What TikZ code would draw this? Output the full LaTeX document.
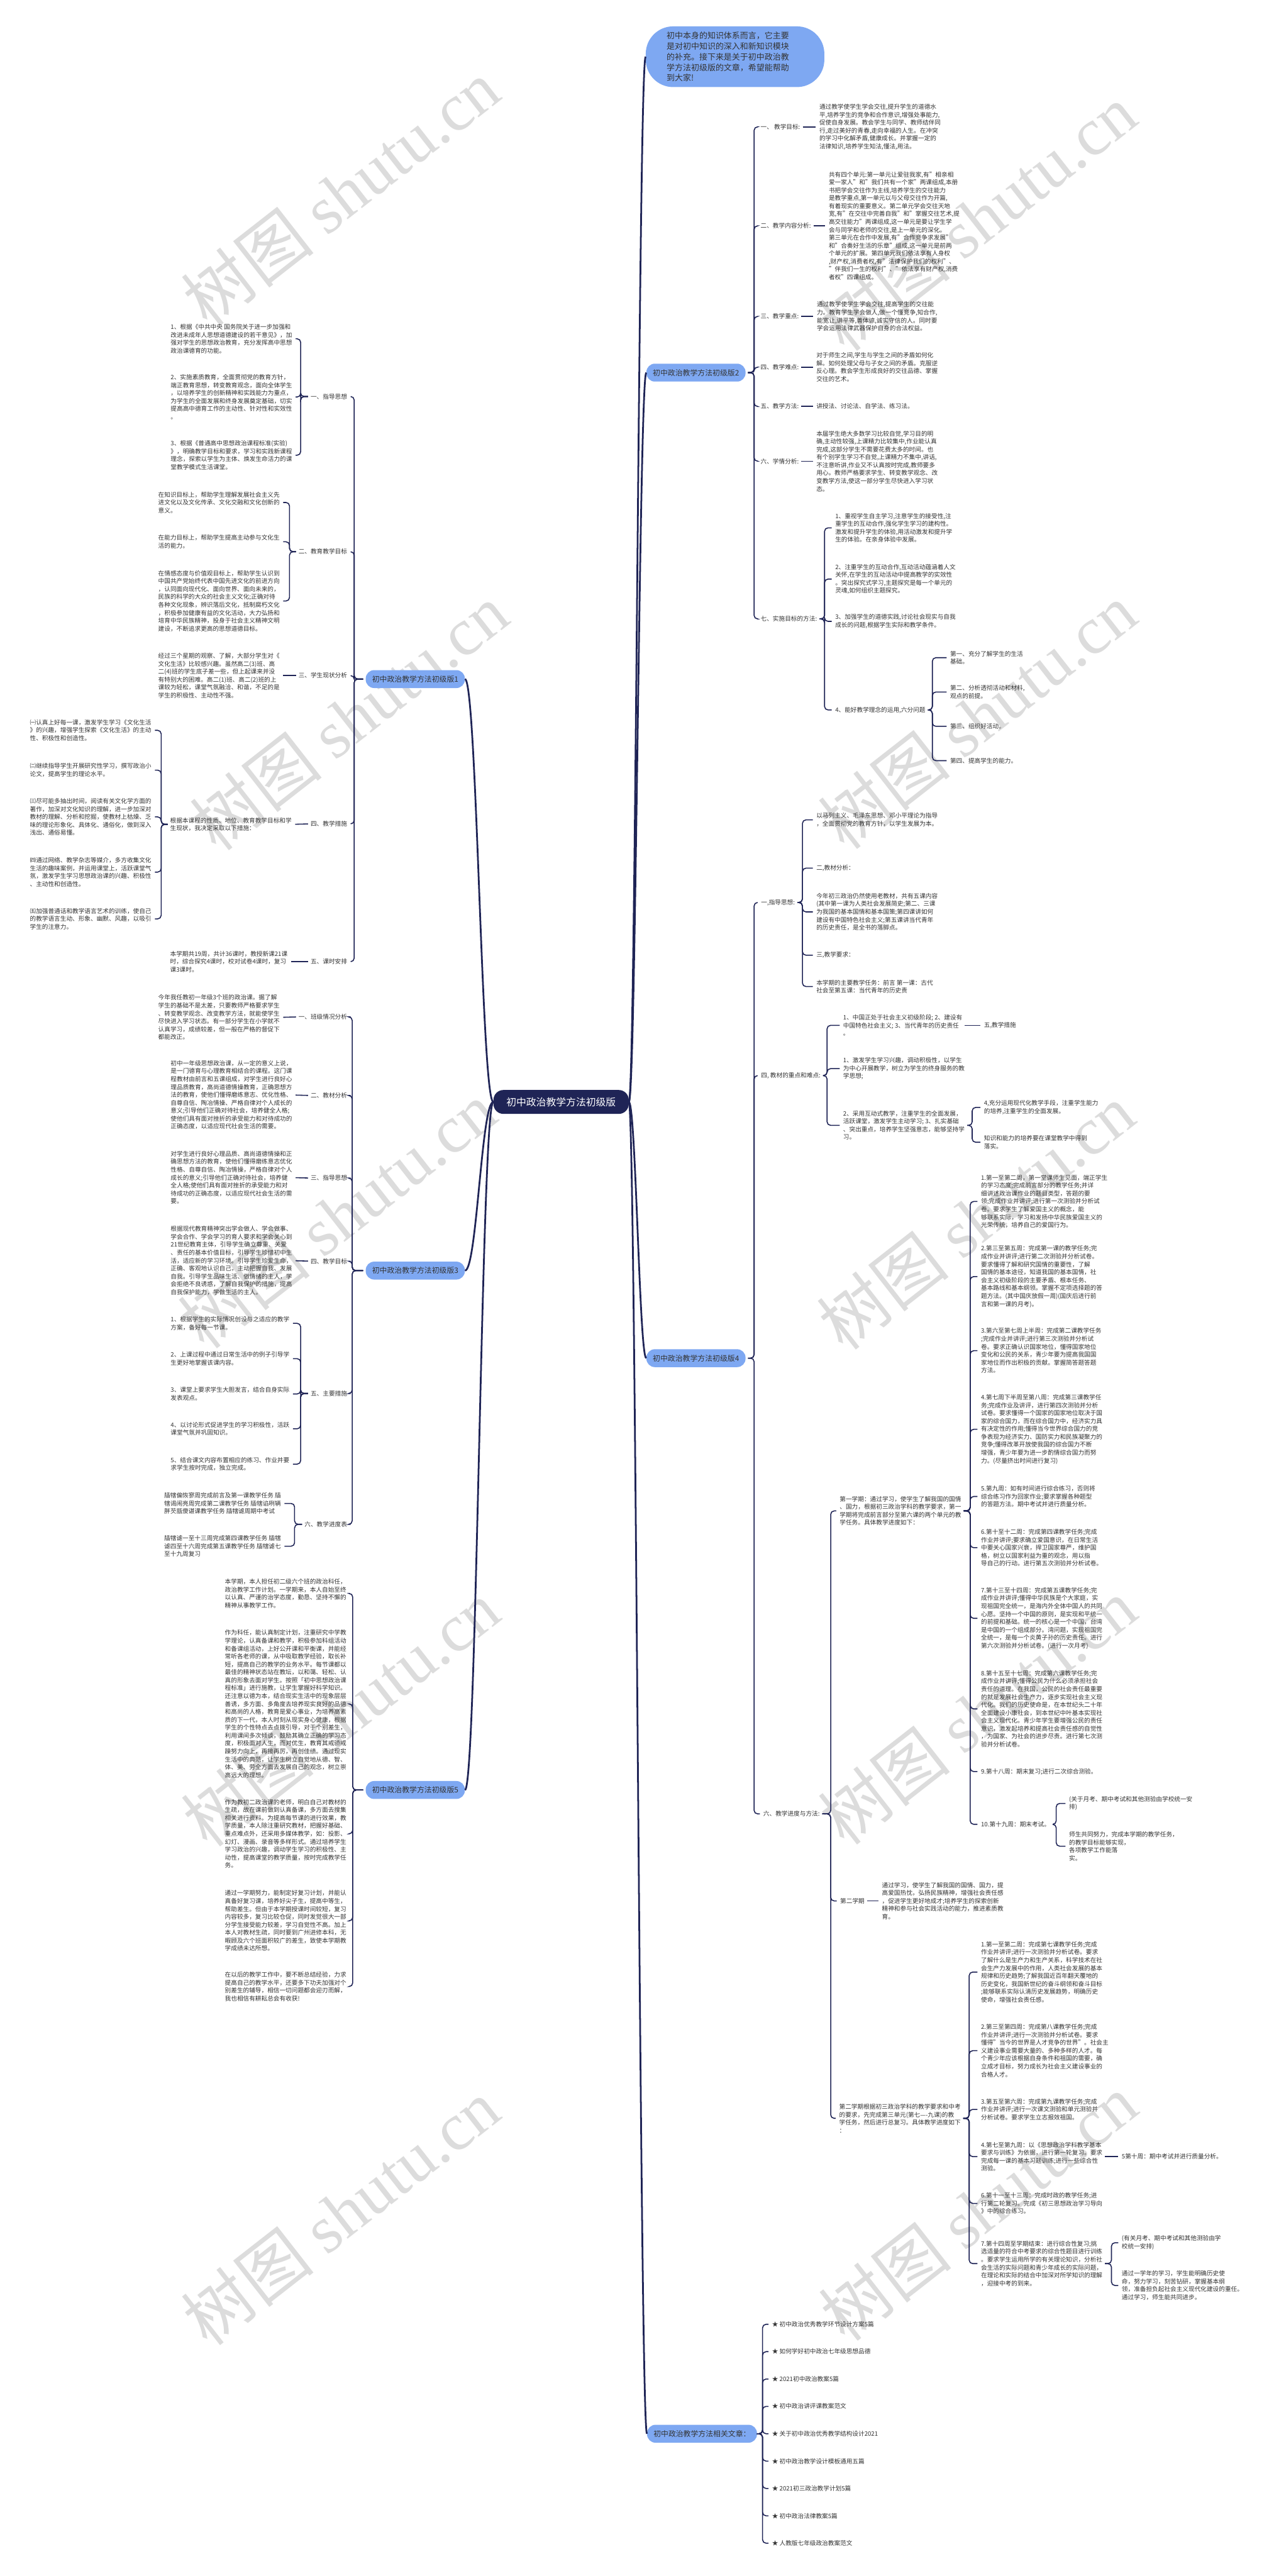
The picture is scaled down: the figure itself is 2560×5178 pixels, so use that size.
\documentclass[tikz,border=0pt]{standalone}
\usepackage{fontspec}
\setmainfont{Noto Sans CJK SC}
\newfontfamily\wmlat{Liberation Serif}
\usetikzlibrary{calc}
\definecolor{navy}{HTML}{1F2456}
\definecolor{bl}{HTML}{7EA8F2}
\definecolor{tc}{HTML}{333333}
\definecolor{wmc}{HTML}{DCDCDC}
\tikzset{
  tx/.style={font=\fontsize{12.2}{15.9}\selectfont, text=tc, inner sep=0pt, align=left, anchor=west},
  lb/.style={font=\fontsize{12.2}{15.9}\selectfont, text=tc, inner sep=0pt, anchor=west},
  lbr/.style={lb, anchor=east},
  lk/.style={draw=navy, line width=2pt, rounded corners=7pt, shorten <=5pt, shorten >=7pt},
  mainlk/.style={draw=navy, line width=3.5pt},
  br/.style={fill=bl, rounded corners=17pt, inner xsep=13pt, inner ysep=0pt, minimum height=36pt, font=\fontsize{15}{18}\selectfont, text=tc},
  ctrs/.style={fill=navy, text=white, rounded corners=20pt, inner xsep=26pt, minimum height=48pt, font=\fontsize{20}{24}\selectfont},
  wm/.style={text=wmc, rotate=38, font=\fontsize{135}{140}\selectfont, inner sep=0pt}
}
\begin{document}
\begin{tikzpicture}[x=1pt,y=-1pt]
\path[fill=white,use as bounding box] (0,0) rectangle (2560,5178);
% watermarks
\foreach \wx/\wy in {685/388,702/1442,678/2443,685/3445,685/4447,1965/438,1965/1440,1962/2446,1965/3441,1967/4438}{
  \node[wm] at (\wx,\wy) {树图 {\wmlat shutu.cn}};
}
% center
\node[ctrs] (ctr) at (1128,2215) {初中政治教学方法初级版};
% intro
\node[fill=bl, rounded corners=55pt, minimum width=359pt, minimum height=122pt, inner sep=0pt, anchor=west] (intro) at (1298,114) {};
\node[inner sep=0pt, anchor=west, align=left, text=tc, font=\fontsize{16.4}{21.3}\selectfont] (introt) at (1340,114) {初中本身的知识体系而言，它主要\\是对初中知识的深入和新知识模块\\的补充。接下来是关于初中政治教\\学方法初级版的文章，希望能帮助\\到大家!};
% ===== branch 2
\node[br, anchor=east] (b2) at (1499,749) {初中政治教学方法初级版2};
\node[lb] (l21) at (1529,255) {一、 教学目标:};
\node[lb] (l22) at (1529,454) {二、教学内容分析:};
\node[lb] (l23) at (1529,636) {三、教学重点:};
\node[lb] (l24) at (1529,738) {四、教学难点:};
\node[lb] (l25) at (1529,817) {五、教学方法:};
\node[lb] (l26) at (1529,927) {六、学情分析:};
\node[lb] (l27) at (1529,1244) {七、实施目标的方法:};
\node[tx] (t21) at (1647,255) {通过教学使学生学会交往,提升学生的道德水\\平,培养学生的竞争和合作意识,增强处事能力,\\促使自身发展。教会学生与同学、教师结伴同\\行,走过美好的青春,走向幸福的人生。在冲突\\的学习中化解矛盾,健康成长。并掌握一定的\\法律知识,培养学生知法,懂法,用法。};
\node[tx] (t22) at (1666,454) {共有四个单元:第一单元让爱驻我家,有"相亲相\\爱一家人"和"我们共有一个家"两课组成,本册\\书把学会交往作为主线,培养学生的交往能力\\是教学重点,第一单元以与父母交往作为开篇,\\有着现实的重要意义。第二单元学会交往天地\\宽,有"在交往中完善自我"和"掌握交往艺术,提\\高交往能力"两课组成,这一单元是要让学生学\\会与同学和老师的交往,是上一单元的深化。\\第三单元在合作中发展,有"合作竞争求发展"\\和"合奏好生活的乐章"组成,这一单元是前两\\个单元的扩展。第四单元我们依法享有人身权\\,财产权,消费者权,有"法律保护我们的权利"、\\"伴我们一生的权利"、"依法享有财产权,消费\\者权"四课组成。};
\node[tx] (t23) at (1642,636) {通过教学使学生学会交往,提高学生的交往能\\力。教育学生学会做人,做一个懂竞争,知合作,\\能宽让,讲平等,善体谅,诚实守信的人。同时要\\学会运用法律武器保护自身的合法权益。};
\node[tx] (t24) at (1641,738) {对于师生之间,学生与学生之间的矛盾如何化\\解。如何处理父母与子女之间的矛盾。克服逆\\反心理。教会学生形成良好的交往品德、掌握\\交往的艺术。};
\node[tx] (t25) at (1641,817) {讲授法、讨论法、自学法、练习法。};
\node[tx] (t26) at (1641,927) {本届学生绝大多数学习比较自觉,学习目的明\\确,主动性较强,上课精力比较集中,作业能认真\\完成,这部分学生不需要花费太多的时间。也\\有个别学生学习不自觉,上课精力不集中,讲话,\\不注意听讲,作业又不认真按时完成,教师要多\\用心。教师严格要求学生、转变教学观念、改\\变教学方法,使这一部分学生尽快进入学习状\\态。};
\node[tx] (t271) at (1679,1061) {1、重视学生自主学习,注意学生的接受性,注\\重学生的互动合作,强化学生学习的建构性。\\激发和提升学生的体验,用活动激发和提升学\\生的体验。在亲身体验中发展。};
\node[tx] (t272) at (1679,1164) {2、注重学生的互动合作,互动活动蕴涵着人文\\关怀,在学生的互动活动中提高教学的实效性\\。突出探究式学习,主题探究是每一个单元的\\灵魂,如何组织主题探究。};
\node[tx] (t273) at (1679,1249) {3、加强学生的道德实践,讨论社会现实与自我\\成长的问题,根据学生实际和教学条件。};
\node[tx] (t274) at (1679,1427) {4、能好教学理念的运用,六分问题};
\node[tx] (t2741) at (1910,1322) {第一、充分了解学生的生活\\基础。};
\node[tx] (t2742) at (1910,1391) {第二、分析透彻活动和材料,\\观点的前提。};
\node[tx] (t2743) at (1910,1460) {第三、组织好活动。};
\node[tx] (t2744) at (1910,1529) {第四、提高学生的能力。};
\draw[mainlk] (ctr.east) .. controls +(14,0) and +(-14,0) .. (b2.west);
\draw[mainlk] (ctr.east) .. controls +(14,0) and +(-14,0) .. (intro.west);
\foreach \c in {l21,l22,l23,l24,l25,l26,l27}{\draw[lk] (b2.east) -- ++(17,0) |- (\c.west);}
\foreach \a/\b in {l21/t21,l22/t22,l23/t23,l24/t24,l25/t25,l26/t26}{\draw[lk] (\a.east) -- (\b.west);}
\foreach \c in {t271,t272,t273,t274}{\draw[lk] (l27.east) -- ++(15,0) |- (\c.west);}
\foreach \c in {t2741,t2742,t2743,t2744}{\draw[lk] (t274.east) -- ++(14,0) |- (\c.west);}
% ===== branch 4
\node[br, anchor=east] (b4) at (1499,2730) {初中政治教学方法初级版4};
\node[lb] (l41) at (1530,1814) {一,指导思想:};
\node[lb] (l44) at (1530,2162) {四, 教材的重点和难点:};
\node[lb, anchor=east] (l46) at (1648,3646) {六、教学进度与方法:};
\node[tx] (t411) at (1641,1648) {以马列主义、毛泽东思想、邓小平理论为指导\\，全面贯彻党的教育方针，以学生发展为本。};
\node[tx] (t41b) at (1641,1745) {二,教材分析：};
\node[tx] (t412) at (1641,1833) {今年初三政治仍然使用老教材，共有五课内容\\(其中第一课为人类社会发展简史;第二、三课\\为我国的基本国情和基本国策;第四课讲如何\\建设有中国特色社会主义;第五课讲当代青年\\的历史责任，是全书的落脚点。};
\node[tx] (t413) at (1641,1920) {三,教学要求：};
\node[tx] (t414) at (1641,1983) {本学期的主要教学任务：前言 第一课：古代\\社会至第五课：当代青年的历史责};
\node[tx] (t441) at (1695,2061) {1、中国正处于社会主义初级阶段; 2、建设有\\中国特色社会主义; 3、当代青年的历史责任\\。};
\node[tx] (t442) at (1695,2148) {1、激发学生学习兴趣，调动积极性，以学生\\为中心开展教学，树立为学生的终身服务的教\\学思想;};
\node[tx] (t443) at (1695,2262) {2、采用互动式教学，注重学生的全面发展，\\活跃课堂，激发学生主动学习; 3、扎实基础\\、突出重点，培养学生坚强意志，能够坚持学\\习。};
\node[tx] (t4411) at (1978,2061) {五,教学措施};
\node[tx] (t4431) at (1978,2226) {4,充分运用现代化教学手段，注重学生能力\\的培养,注重学生的全面发展。};
\node[tx] (t4432) at (1978,2296) {知识和能力的培养要在课堂教学中得到\\落实。};
\node[tx] (t461) at (1688,3037) {第一学期：通过学习，使学生了解我国的国情\\、国力，根据初三政治学科的教学要求，第一\\学期将完成前言部分至第六课的两个单元的教\\学任务。具体教学进度如下：};
\node[lb] (t462) at (1689,3821) {第二学期};
\node[tx] (t462t) at (1773,3821) {通过学习，使学生了解我国的国情、国力，提\\高爱国热忱，弘扬民族精神，增强社会责任感\\，促进学生更好地成才;培养学生的探索创新\\精神和参与社会实践活动的能力，推进素质教\\育。};
\node[tx] (t463) at (1687,4258) {第二学期根据初三政治学科的教学要求和中考\\的要求，先完成第三单元(第七----九课)的教\\学任务，然后进行总复习。具体教学进度如下\\：};
\node[tx] (s1) at (1972,2415) {1.第一至第二周，第一堂课师生见面，端正学生\\的学习态度;完成前言部分的教学任务;并详\\细讲述政治课作业的题目类型，答题的要\\领;完成作业并讲评;进行第一次测验并分析试\\卷。要求学生了解爱国主义的概念，能\\够联系实际，学习和发扬中华民族爱国主义的\\光荣传统，培养自己的爱国行为。};
\node[tx] (s2) at (1972,2566) {2.第三至第五周：完成第一课的教学任务;完\\成作业并讲评;进行第二次测验并分析试卷。\\要求懂得了解和研究国情的重要性，了解\\国情的基本途径，知道我国的基本国情，社\\会主义初级阶段的主要矛盾、根本任务、\\基本路线和基本纲领。掌握不定项选择题的答\\题方法。(其中国庆放假一周)(国庆后进行前\\言和第一课的月考)。};
\node[tx] (s3) at (1972,2715) {3.第六至第七周上半周：完成第二课教学任务\\;完成作业并讲评;进行第三次测验并分析试\\卷。要求正确认识国家地位，懂得国家地位\\变化和公民的关系，青少年要为提高我国国\\家地位而作出积极的贡献。掌握简答题答题\\方法。};
\node[tx] (s4) at (1972,2873) {4.第七周下半周至第八周：完成第三课教学任\\务;完成作业及讲评，进行第四次测验并分析\\试卷。要求懂得一个国家的国家地位取决于国\\家的综合国力，而在综合国力中，经济实力具\\有决定性的作用;懂得当今世界综合国力的竞\\争表现为经济实力、国防实力和民族凝聚力的\\竞争;懂得改革开放使我国的综合国力不断\\增强，青少年要为进一步酌情综合国力而努\\力。(尽量挤出时间进行复习)};
\node[tx] (s5) at (1972,3008) {5.第九周：如有时间进行综合练习，否则将\\综合练习作为回家作业;要求掌握各种题型\\的答题方法。期中考试并进行质量分析。};
\node[tx] (s6) at (1972,3111) {6.第十至十二周：完成第四课教学任务;完成\\作业并讲评;要求确立爱国意识，在日常生活\\中要关心国家兴衰，捍卫国家尊严，维护国\\格，树立以国家利益为重的观念，用以指\\导自己的行动。进行第五次测验并分析试卷。};
\node[tx] (s7) at (1972,3253) {7.第十三至十四周：完成第五课教学任务;完\\成作业并讲评;懂得中华民族是个大家庭，实\\现祖国完全统一，是海内外全体中国人的共同\\心愿。坚持一个中国的原则，是实现和平统一\\的前提和基础。统一的核心是一个中国，台湾\\是中国的一个组成部分。湾问题，实现祖国完\\全统一，是每一个炎黄子孙的历史责任。进行\\第六次测验并分析试卷。(进行一次月考)};
\node[tx] (s8) at (1972,3435) {8.第十五至十七周：完成第六课教学任务;完\\成作业并讲评;懂得公民为什么必须承担社会\\责任的道理。在我国，公民的社会责任最重要\\的就是发展社会生产力，逐步实现社会主义现\\代化。我们的历史使命是，在本世纪头二十年\\全面建设小康社会，到本世纪中叶基本实现社\\会主义现代化。青少年学生要增强公民的责任\\意识，激发起培养和提高社会责任感的自觉性\\，为国家、为社会的进步尽责。进行第七次测\\验并分析试卷。};
\node[tx] (s9) at (1972,3561) {9.第十八周：期末复习;进行二次综合测验。};
\node[tx] (s10) at (1972,3667) {10.第十九周：期末考试。};
\node[tx] (s10a) at (2149,3625) {(关于月考、期中考试和其他测验由学校统一安\\排)};
\node[tx] (s10b) at (2149,3711) {师生共同努力，完成本学期的教学任务，\\的教学目标能够实现，\\各项教学工作能落\\实。};
\node[tx] (u1) at (1972,3964) {1.第一至第二周：完成第七课教学任务;完成\\作业并讲评;进行一次测验并分析试卷。要求\\了解什么是生产力和生产关系，科学技术在社\\会生产力发展中的作用，人类社会发展的基本\\规律和历史趋势;了解我国近百年翻天覆地的\\历史变化，我国新世纪的奋斗纲领和奋斗目标\\;能够联系实际认清历史发展趋势，明确历史\\使命，增强社会责任感。};
\node[tx] (u2) at (1972,4122) {2.第三至第四周：完成第八课教学任务;完成\\作业并讲评;进行一次测验并分析试卷。要求\\懂得"当今的世界是人才竞争的世界"。社会主\\义建设事业需要大量的、多种多样的人才。每\\个青少年应该根据自身条件和祖国的需要，确\\立成才目标，努力成长为社会主义建设事业的\\合格人才。};
\node[tx] (u3) at (1972,4240) {3.第五至第六周：完成第九课教学任务;完成\\作业并讲评;进行一次课文测验和单元测验并\\分析试卷。要求学生立志报效祖国。};
\node[tx] (u4) at (1972,4335) {4.第七至第九周：以《思想政治学科教学基本\\要求与训练》为依据，进行第一轮复习。要求\\完成每一课的基本习题训练;进行一些综合性\\测验。};
\node[tx] (u4a) at (2255,4335) {5第十周：期中考试并进行质量分析。};
\node[tx] (u6) at (1972,4429) {6.第十一至十三周：完成时政的教学任务;进\\行第二轮复习。完成《初三思想政治学习导向\\》中的综合练习。};
\node[tx] (u7) at (1972,4550) {7.第十四周至学期结束：进行综合性复习;挑\\选适量的符合中考要求的综合性题目进行训练\\。要求学生运用所学的有关理论知识，分析社\\会生活的实际问题和青少年成长的实际问题，\\在理论和实际的结合中加深对所学知识的理解\\，迎接中考的到来。};
\node[tx] (u7a) at (2255,4508) {(有关月考、期中考试和其他测验由学\\校统一安排)};
\node[tx] (u7b) at (2255,4594) {通过一学年的学习，学生能明确历史使\\命，努力学习，刻苦钻研，掌握基本纲\\领，准备担负起社会主义现代化建设的重任。\\通过学习，师生能共同进步。};
\draw[mainlk] (ctr.east) .. controls +(14,0) and +(-14,0) .. (b4.west);
\foreach \c in {l41,l44}{\draw[lk] (b4.east) -- ++(17,0) |- (\c.west);}
\draw[lk] (b4.east) -- ++(17,0) |- (l46.west);
\foreach \c in {t411,t41b,t412,t413,t414}{\draw[lk] (l41.east) -- ++(15,0) |- (\c.west);}
\foreach \c in {t441,t442,t443}{\draw[lk] (l44.east) -- ++(13,0) |- (\c.west);}
\draw[lk] (t441.east) -- (t4411.west);
\foreach \c in {t4431,t4432}{\draw[lk] (t443.east) -- ++(15,0) |- (\c.west);}
\foreach \c in {t461,t462,t463}{\draw[lk] (l46.east) -- ++(22,0) |- (\c.west);}
\foreach \c in {s1,s2,s3,s4,s5,s6,s7,s8,s9,s10}{\draw[lk] (t461.east) -- ++(18,0) |- (\c.west);}
\foreach \c in {s10a,s10b}{\draw[lk] (s10.east) -- ++(12,0) |- (\c.west);}
\draw[lk] (t462.east) -- (t462t.west);
\foreach \c in {u1,u2,u3,u4,u6,u7}{\draw[lk] (t463.east) -- ++(17,0) |- (\c.west);}
\draw[lk] (u4.east) -- (u4a.west);
\foreach \c in {u7a,u7b}{\draw[lk] (u7.east) -- ++(18,0) |- (\c.west);}
% ===== related
\node[br, anchor=east] (rel) at (1522,4892) {初中政治教学方法相关文章：};
\foreach \i/\t in {0/初中政治优秀教学环节设计方案5篇,1/如何学好初中政治七年级思想品德,2/2021初中政治教案5篇,3/初中政治讲评课教案范文,4/关于初中政治优秀教学结构设计2021,5/初中政治教学设计模板通用五篇,6/2021初三政治教学计划5篇,7/初中政治法律教案5篇,8/人教版七年级政治教案范文}{
  \node[lb] (r\i) at (1552,4672+55*\i) {★ \t};
  \draw[lk] (rel.east) -- ++(11,0) |- (r\i.west);
}
\draw[mainlk] (ctr.east) .. controls +(14,0) and +(-14,0) .. (rel.west);
% ===== branch 1
\node[br, anchor=west] (b1) at (735,1365) {初中政治教学方法初级版1};
\node[lbr] (l11) at (698,797) {一、指导思想};
\node[lbr] (l12) at (698,1109) {二、教育教学目标};
\node[lbr] (l13) at (698,1358) {三、学生现状分析};
\node[lbr] (l14) at (698,1656) {四、教学措施};
\node[lbr] (l15) at (698,1933) {五、课时安排};
\node[tx] (t111) at (343,681) {1、根据《中共中央 国务院关于进一步加强和\\改进未成年人思想道德建设的若干意见》，加\\强对学生的思想政治教育，充分发挥高中思想\\政治课德育的功能。};
\node[tx] (t112) at (343,798) {2、实施素质教育，全面贯彻党的教育方针，\\端正教育思想，转变教育观念，面向全体学生\\，以培养学生的创新精神和实践能力为重点，\\为学生的全面发展和终身发展奠定基础，切实\\提高高中德育工作的主动性、针对性和实效性\\。};
\node[tx] (t113) at (343,915) {3、根据《普通高中思想政治课程标准(实验)\\》，明确教学目标和要求，学习和实践新课程\\理念，探索以学生为主体、焕发生命活力的课\\堂教学模式生活课堂。};
\node[tx] (t121) at (318,1010) {在知识目标上，帮助学生理解发展社会主义先\\进文化以及文化传承、文化交融和文化创新的\\意义。};
\node[tx] (t122) at (318,1089) {在能力目标上，帮助学生提高主动参与文化生\\活的能力。};
\node[tx] (t123) at (318,1208) {在情感态度与价值观目标上，帮助学生认识到\\中国共产党始终代表中国先进文化的前进方向\\，认同面向现代化、面向世界、面向未来的，\\民族的科学的大众的社会主义文化;正确对待\\各种文化现象，辨识落后文化，抵制腐朽文化\\，积极参加健康有益的文化活动，大力弘扬和\\培育中华民族精神，投身于社会主义精神文明\\建设，不断追求更高的思想道德目标。};
\node[tx] (t13) at (318,1358) {经过三个星期的观察、了解，大部分学生对《\\文化生活》比较感兴趣。虽然高二(3)班、高\\二(4)班的学生底子差一些，但上起课来并没\\有特别大的困难。高二(1)班、高二(2)班的上\\课较为轻松，课堂气氛融洽、和谐，不足的是\\学生的积极性、主动性不强。};
\node[tx] (t14) at (342,1657) {根据本课程的性质、地位、教育教学目标和学\\生现状，我决定采取以下措施：};
\node[tx] (t141) at (60,1468) {㈠认真上好每一课，激发学生学习《文化生活\\》的兴趣，增强学生探索《文化生活》的主动\\性、积极性和创造性。};
\node[tx] (t142) at (60,1548) {㈡继续指导学生开展研究性学习，撰写政治小\\论文，提高学生的理论水平。};
\node[tx] (t143) at (60,1642) {㈢尽可能多抽出时间，阅读有关文化学方面的\\著作，加深对文化知识的理解，进一步加深对\\教材的理解、分析和挖掘，使教材上枯燥、乏\\味的理论形象化、具体化、通俗化，做到深入\\浅出、通俗易懂。};
\node[tx] (t144) at (60,1753) {㈣通过网络、教学杂志等媒介，多方收集文化\\生活的趣味案例，并运用课堂上，活跃课堂气\\氛，激发学生学习思想政治课的兴趣、积极性\\、主动性和创造性。};
\node[tx] (t145) at (60,1847) {㈤加强普通话和教学语言艺术的训练，使自己\\的教学语言生动、形象、幽默、风趣，以吸引\\学生的注意力。};
\node[tx] (t15) at (342,1933) {本学期共19周，共计36课时，教授新课21课\\时，综合探究4课时，校对试卷4课时，复习\\课3课时。};
\draw[mainlk] (ctr.west) .. controls +(-24,0) and +(24,0) .. (b1.east);
\foreach \c in {l11,l12,l13,l14,l15}{\draw[lk] (b1.west) -- ++(-23,0) |- (\c.east);}
\foreach \c in {t111,t112,t113}{\draw[lk] (l11.west) -- ++(-20,0) |- (\c.east);}
\foreach \c in {t121,t122,t123}{\draw[lk] (l12.west) -- ++(-18,0) |- (\c.east);}
\draw[lk] (l13.west) -- (t13.east);
\draw[lk] (l14.west) -- (t14.east);
\draw[lk] (l15.west) -- (t15.east);
\foreach \c in {t141,t142,t143,t144,t145}{\draw[lk] (t14.west) -- ++(-18,0) |- (\c.east);}
% ===== branch 3
\node[br, anchor=west] (b3) at (735,2554) {初中政治教学方法初级版3};
\node[lbr] (l31) at (698,2044) {一、班级情况分析};
\node[lbr] (l32) at (698,2202) {二、教材分析};
\node[lbr] (l33) at (698,2368) {三、指导思想};
\node[lbr] (l34) at (698,2535) {四、教学目标};
\node[lbr] (l35) at (698,2801) {五、主要措施};
\node[lbr] (l36) at (698,3064) {六、教学进度表};
\node[tx] (t31) at (318,2045) {今年我任教初一年级3个班的政治课。据了解\\学生的基础不是太差，只要教师严格要求学生\\、转变教学观念、改变教学方法，就能使学生\\尽快进入学习状态。有一部分学生在小学就不\\认真学习，成绩较差，但一般在严格的督促下\\都能改正。};
\node[tx] (t32) at (343,2201) {初中一年级思想政治课，从一定的意义上说，\\是一门德育与心理教育相结合的课程。这门课\\程教材由前言和五课组成，对学生进行良好心\\理品质教育，高尚道德情操教育，正确思想方\\法的教育，使他们懂得磨练意志、优化性格、\\自尊自信、陶冶情操、严格自律对个人成长的\\意义;引导他们正确对待社会，培养健全人格;\\使他们具有面对挫折的承受能力和对待成功的\\正确态度，以适应现代社会生活的需要。};
\node[tx] (t33) at (343,2367) {对学生进行良好心理品质、高尚道德情操和正\\确思想方法的教育，使他们懂得磨练意志优化\\性格、自尊自信、陶冶情操，严格自律对个人\\成长的意义;引导他们正确对待社会，培养健\\全人格;使他们具有面对挫折的承受能力和对\\待成功的正确态度，以适应现代社会生活的需\\要。};
\node[tx] (t34) at (343,2534) {根据现代教育精神突出学会做人、学会做事、\\学会合作、学会学习的育人要求和学会关心到\\21世纪教育主体，引导学生确立尊重、关爱\\、责任的基本价值目标，引导学生珍惜初中生\\活，适应新的学习环境。引导学生珍爱生命，\\正确、客观地认识自己，主动把握自我、发展\\自我。引导学生品味生活、做情绪的主人，学\\会拒绝不良诱惑，了解自我保护的措施，提高\\自我保护能力，学做生活的主人。};
\node[tx] (t351) at (343,2660) {1、根据学生的实际情况创设与之适应的教学\\方案，备好每一节课。};
\node[tx] (t352) at (343,2731) {2、上课过程中通过日常生活中的例子引导学\\生更好地掌握该课内容。};
\node[tx] (t353) at (343,2802) {3、课堂上要求学生大胆发言，结合自身实际\\发表观点。};
\node[tx] (t354) at (343,2872) {4、以讨论形式促进学生的学习积极性，活跃\\课堂气氛并巩固知识。};
\node[tx] (t355) at (343,2943) {5、结合课文内容布置相应的练习、作业并要\\求学生按时完成，独立完成。};
\node[tx] (t361) at (330,3022) {牐犗偏恢寥周完成前言及第一课教学任务 牐\\犗谒闹亮周完成第二课教学任务 牐犗谄咧辆\\胖芡瓿傻谌课教学任务 牐犗谑周期中考试};
\node[tx] (t362) at (330,3108) {牐犗谑一至十三周完成第四课教学任务 牐犗\\谑四至十六周完成第五课教学任务 牐犗谑七\\至十九周复习};
\draw[mainlk] (ctr.west) .. controls +(-24,0) and +(24,0) .. (b3.east);
\foreach \c in {l31,l32,l33,l34,l35,l36}{\draw[lk] (b3.west) -- ++(-27,0) |- (\c.east);}
\foreach \a/\b in {l31/t31,l32/t32,l33/t33,l34/t34}{\draw[lk] (\a.west) -- (\b.east);}
\foreach \c in {t351,t352,t353,t354,t355}{\draw[lk] (l35.west) -- ++(-20,0) |- (\c.east);}
\foreach \c in {t361,t362}{\draw[lk] (l36.west) -- ++(-20,0) |- (\c.east);}
% ===== branch 5
\node[br, anchor=west] (b5) at (735,3598) {初中政治教学方法初级版5};
\node[tx] (t51) at (452,3203) {本学期，本人担任初二级六个班的政治科任，\\政治教学工作计划。一学期来，本人自始至终\\以认真、严谨的治学态度，勤恳、坚持不懈的\\精神从事教学工作。};
\node[tx] (t52) at (452,3425) {作为科任，能认真制定计划，注重研究中学教\\学理论，认真备课和教学，积极参加科组活动\\和备课组活动，上好公开课和平衡课，并能经\\常听各老师的课，从中吸取教学经验，取长补\\短，提高自己的教学的业务水平。每节课都以\\最佳的精神状态站在教坛，以和蔼、轻松、认\\真的形象去面对学生。按照「初中思想政治课\\程标准」进行施教，让学生掌握好科学知识。\\还注意以德为本，结合现实生活中的现象层层\\善诱，多方面、多角度去培养现实良好的品德\\和高尚的人格，教育是爱心事业，为培养高素\\质的下一代，本人时刻从现实身心健康，根据\\学生的个性特点去点拨引导，对于个别差生，\\利用课间多次倾谈，鼓励其确立正确的学习态\\度，积极面对人生，而对优生，教育其戒骄戒\\躁努力向上，再接再厉，再创佳绩。通过现实\\生活中的典范，让学生树立自觉地从德、智、\\体、美、劳全方面去发展自己的观念，树立崇\\高远大的理想。};
\node[tx] (t53) at (452,3686) {作为教初二政治课的老师，明白自己对教材的\\生疏，故在课前做到认真备课，多方面去搜集\\相关进行资料。为提高每节课的进行效果，教\\学质量，本人除注重研究教材，把握好基础、\\重点难点外，还采用多媒体教学，如：投影、\\幻灯、漫画、录音等多样形式。通过培养学生\\学习政治的兴趣，调动学生学习的积极性、主\\动性，提高课堂的教学质量，按时完成教学任\\务。};
\node[tx] (t54) at (452,3861) {通过一学期努力，能制定好复习计划，并能认\\真备好复习课，培养好尖子生，提高中等生，\\帮助差生。但由于本学期授课时间较短，复习\\内容较多，复习比较仓促，同时发觉很大一部\\分学生接受能力较差，学习自觉性不高。加上\\本人对教材生疏，同时要到广州进修本科，无\\暇顾及六个班面积较广的差生，致使本学期教\\学成绩未达所想。};
\node[tx] (t55) at (452,3993) {在以后的教学工作中，要不断总结经验，力求\\提高自己的教学水平，还要多下功夫加强对个\\别差生的辅导，相信一切问题都会迎刃而解，\\我也相信有耕耘总会有收获!};
\draw[mainlk] (ctr.west) .. controls +(-24,0) and +(24,0) .. (b5.east);
\foreach \c in {t51,t52,t53,t54,t55}{\draw[lk] (b5.west) -- ++(-26,0) |- (\c.east);}
\end{tikzpicture}
\end{document}
